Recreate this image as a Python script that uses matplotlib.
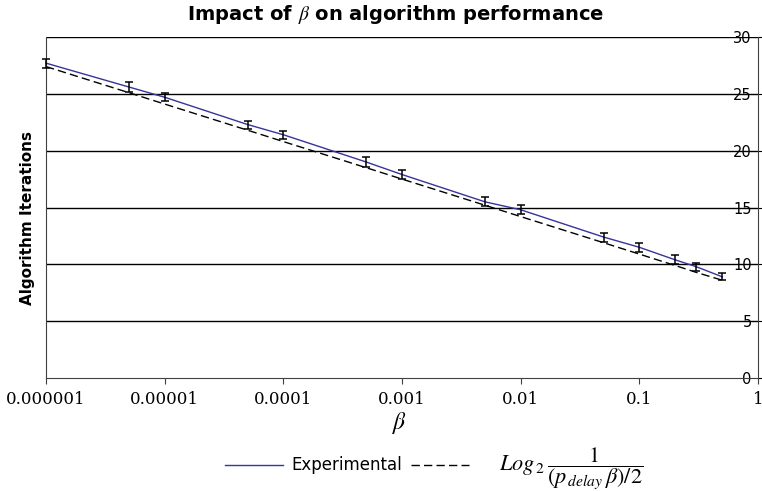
import matplotlib
matplotlib.use('Agg')
import matplotlib.pyplot as plt
from matplotlib.lines import Line2D

matplotlib.rc('font', family='DejaVu Sans')
matplotlib.rc('mathtext', fontset='stix')

# beta values and iteration counts
beta = [1e-6, 5e-6, 1e-5, 5e-5, 1e-4, 5e-4, 1e-3, 5e-3, 1e-2, 5e-2, 0.1, 0.2, 0.3, 0.5]
experimental = [27.7, 25.6, 24.7, 22.3, 21.4, 19.0, 17.9, 15.5, 14.8, 12.4, 11.5, 10.4, 9.8, 8.9]
exp_err = [0.4, 0.4, 0.35, 0.35, 0.35, 0.4, 0.4, 0.4, 0.4, 0.4, 0.4, 0.4, 0.35, 0.3]
theory = [27.4, 25.1, 24.1, 21.8, 20.8, 18.5, 17.5, 15.2, 14.2, 11.9, 10.9, 9.9, 9.3, 8.6]

xticks = [1e-6, 1e-5, 1e-4, 1e-3, 1e-2, 1e-1, 1]
xticklabels = ['0.000001', '0.00001', '0.0001', '0.001', '0.01', '0.1', '1']
yticks = [0, 5, 10, 15, 20, 25, 30]

blue = '#35359a'

fig = plt.figure(figsize=(7.62, 4.91), dpi=100, facecolor='w')
ax = fig.add_axes([46/762, 1 - 378/491, 712/762, 341/491])

for y in yticks[1:]:
    ax.axhline(y, color='k', lw=1.0, zorder=1)

ax.plot(beta, experimental, color=blue, lw=1.0, zorder=3, clip_on=False)
ax.plot(beta, theory, color='k', lw=1.0, dashes=(6, 3), zorder=2, clip_on=False)
eb = ax.errorbar(beta, experimental, yerr=exp_err, fmt='none', ecolor='k',
                 elinewidth=1.1, capsize=3, capthick=1.1, zorder=4)
for art in list(eb.lines[1]) + list(eb.lines[2]):
    art.set_clip_on(False)

ax.set_xscale('log')
ax.set_xlim(1e-6, 1)
ax.set_ylim(0, 30)
ax.set_xticks(xticks)
ax.set_xticklabels(xticklabels, family='DejaVu Serif', fontsize=12)
ax.minorticks_off()
ax.tick_params(axis='x', direction='out', length=4, pad=5, color='#404040')

ax.yaxis.tick_right()
ax.set_yticks(yticks)
ax.set_yticklabels([str(v) for v in yticks], fontsize=10.5)
ax.tick_params(axis='y', direction='out', length=3, pad=-7.5)
for lbl in ax.get_yticklabels():
    lbl.set_horizontalalignment('right')

ax.spines['top'].set_visible(False)
ax.spines['left'].set_color('#404040')
ax.spines['bottom'].set_color('#404040')
ax.spines['right'].set_color('#404040')

ax.set_ylabel('Algorithm Iterations', fontsize=11, fontweight='bold')
ax.yaxis.set_label_position('left')
ax.yaxis.set_label_coords(-0.015, 0.47)
ax.set_xlabel(r'$\beta$', fontsize=17)
ax.xaxis.set_label_coords(0.497, -0.095)

fig.text(396/762, 1 - 14/491, r'Impact of $\beta$ on algorithm performance',
         ha='center', va='center', fontsize=14, fontweight='bold')

handles = [Line2D([], [], color=blue, lw=1.0),
           Line2D([], [], color='k', lw=1.0, dashes=(6, 3))]
labels = ['Experimental', r'$\;\;\;\;\;Log_{\,2}\,\dfrac{1}{(p_{\,delay}\,\beta)/2}$']
leg = fig.legend(handles, labels, loc='center', bbox_to_anchor=(0.57, 0.045),
                 ncol=2, frameon=False, fontsize=12, handlelength=3.5,
                 handletextpad=0.5, columnspacing=0.5)
leg.get_texts()[1].set_fontsize(16)

plt.savefig('out.png', dpi=100)
